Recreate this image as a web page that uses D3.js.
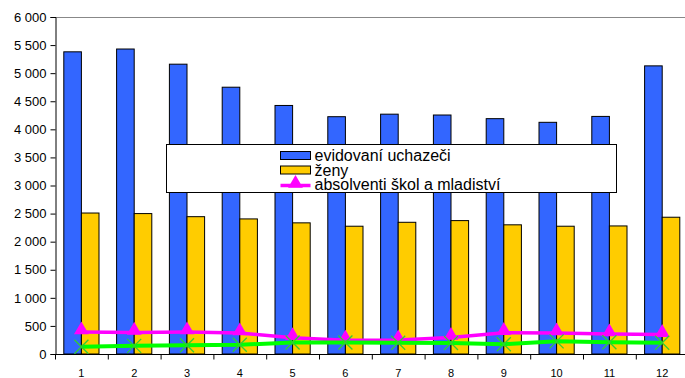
<!DOCTYPE html>
<html>
<head>
<meta charset="utf-8">
<script src="https://cdnjs.cloudflare.com/ajax/libs/d3/7.8.5/d3.min.js"></script>
<style>
  body { margin: 0; background: #fff; }
  svg { font-family: "Liberation Sans", Arial, sans-serif; display: block; }
</style>
</head>
<body>
<div id="viz"></div>
<script>
// DATA
var months = ["1", "2", "3", "4", "5", "6", "7", "8", "9", "10", "11", "12"];
var uchazeci = [5380, 5430, 5160, 4750, 4425, 4225, 4270, 4255, 4190, 4125, 4230, 5130];
var zeny = [2510, 2500, 2445, 2405, 2335, 2275, 2345, 2375, 2300, 2275, 2280, 2435];
var absolventi = [390, 385, 390, 375, 290, 245, 250, 295, 380, 375, 355, 345];
var zelena = [130, 145, 155, 165, 205, 205, 200, 195, 175, 225, 210, 200];
var yTicks = [0, 500, 1000, 1500, 2000, 2500, 3000, 3500, 4000, 4500, 5000, 5500, 6000];

(function() {
var w = 685, h = 378;
var mLeft = 55, mTop = 17, mBottom = 354;
var catW = 52.8;

var svg = d3.select("#viz").append("svg")
  .attr("width", w)
  .attr("height", h);

// SCALES
var x = d3.scaleBand()
  .domain(months)
  .range([mLeft, mLeft + catW * months.length])
  .paddingInner(0).paddingOuter(0);

var xs = d3.scaleBand()
  .domain(["u", "z"])
  .range([x.bandwidth() / 6, x.bandwidth() * 5 / 6]);

var y = d3.scaleLinear()
  .domain([0, 6000])
  .range([mBottom, mTop]);

var fmt = function(d) { return d3.format(",")(d).replace(/,/g, " "); };

// top border of plot
svg.append("line")
  .attr("x1", mLeft).attr("x2", w)
  .attr("y1", y(6000) + 0.5).attr("y2", y(6000) + 0.5)
  .attr("stroke", "#888").attr("stroke-width", 1);

// BARS
var g = svg.append("g");
g.selectAll("rect.u")
  .data(uchazeci)
  .enter().append("rect")
  .attr("class", "u")
  .attr("x", function(d, i) { return x(months[i]) + xs("u"); })
  .attr("y", function(d) { return y(d); })
  .attr("width", xs.bandwidth())
  .attr("height", function(d) { return y(0) - y(d); })
  .attr("fill", "#3366ff")
  .attr("stroke", "#000").attr("stroke-width", 1);

g.selectAll("rect.z")
  .data(zeny)
  .enter().append("rect")
  .attr("class", "z")
  .attr("x", function(d, i) { return x(months[i]) + xs("z"); })
  .attr("y", function(d) { return y(d); })
  .attr("width", xs.bandwidth())
  .attr("height", function(d) { return y(0) - y(d); })
  .attr("fill", "#ffcc00")
  .attr("stroke", "#000").attr("stroke-width", 1);

// LINES
var cx = function(d, i) { return x(months[i]) + x.bandwidth() / 2; };
var line = d3.line().x(cx).y(function(d) { return y(d); });

svg.append("path")
  .datum(absolventi)
  .attr("d", line)
  .attr("fill", "none")
  .attr("stroke", "#ff00ff").attr("stroke-width", 3.5);

var tri = d3.symbol().type(d3.symbolTriangle).size(95);
svg.selectAll("path.tri")
  .data(absolventi)
  .enter().append("path")
  .attr("class", "tri")
  .attr("d", tri)
  .attr("transform", function(d, i) { return "translate(" + cx(d, i) + "," + (y(d) - 2) + ")"; })
  .attr("fill", "#ff00ff");

svg.append("path")
  .datum(zelena)
  .attr("d", line)
  .attr("fill", "none")
  .attr("stroke", "#00ff00").attr("stroke-width", 4);

svg.selectAll("g.xm")
  .data(zelena)
  .enter().append("g")
  .attr("class", "xm")
  .attr("transform", function(d, i) { return "translate(" + cx(d, i) + "," + y(d) + ")"; })
  .each(function() {
    var m = d3.select(this);
    m.append("line").attr("x1", -7).attr("y1", -7).attr("x2", 7).attr("y2", 7);
    m.append("line").attr("x1", -7).attr("y1", 7).attr("x2", 7).attr("y2", -7);
  })
  .selectAll("line")
  .attr("stroke", "#33cc33").attr("stroke-width", 1.3);

// AXES
var yAxis = svg.append("g")
  .attr("transform", "translate(" + (mLeft + 0.5) + ",0)")
  .call(d3.axisLeft(y).tickValues(yTicks).tickFormat(fmt).tickSize(5).tickPadding(4));
yAxis.select(".domain").attr("stroke", "#000");
yAxis.selectAll("text").attr("font-size", 13).attr("fill", "#000")
  .attr("font-family", "'Liberation Sans', Arial, sans-serif");

var xAxis = svg.append("g")
  .attr("transform", "translate(0," + (mBottom + 0.5) + ")");
xAxis.append("line")
  .attr("x1", mLeft).attr("x2", w)
  .attr("stroke", "#000");
xAxis.selectAll("line.tk")
  .data(months.concat(["end"]))
  .enter().append("line")
  .attr("class", "tk")
  .attr("x1", function(d, i) { return mLeft + i * x.bandwidth() + 0.5; })
  .attr("x2", function(d, i) { return mLeft + i * x.bandwidth() + 0.5; })
  .attr("y1", 0).attr("y2", 5)
  .attr("stroke", "#000");
xAxis.selectAll("text")
  .data(months)
  .enter().append("text")
  .attr("x", function(d) { return x(d) + x.bandwidth() / 2; })
  .attr("y", 22)
  .attr("text-anchor", "middle")
  .attr("font-size", 11)
  .text(function(d) { return d; });

// LEGEND
var leg = svg.append("g").attr("transform", "translate(166.5,144.5)");
leg.append("rect")
  .attr("width", 450).attr("height", 48)
  .attr("fill", "#fff").attr("stroke", "#000");

var items = [
  { name: "evidovaní uchazeči", type: "bar", color: "#3366ff" },
  { name: "ženy", type: "bar", color: "#ffcc00" },
  { name: "absolventi škol a mladiství", type: "line", color: "#ff00ff" }
];
var row = leg.selectAll("g.item")
  .data(items)
  .enter().append("g")
  .attr("class", "item")
  .attr("transform", function(d, i) { return "translate(114," + (11 + i * 14.5) + ")"; });

row.filter(function(d) { return d.type === "bar"; })
  .append("rect")
  .attr("x", 0).attr("y", -4).attr("width", 30).attr("height", 8)
  .attr("fill", function(d) { return d.color; })
  .attr("stroke", "#000");

var lr = row.filter(function(d) { return d.type === "line"; });
lr.append("line")
  .attr("x1", 0).attr("x2", 30).attr("y1", 1).attr("y2", 1)
  .attr("stroke", function(d) { return d.color; }).attr("stroke-width", 3.5);
lr.append("path")
  .attr("d", tri)
  .attr("transform", "translate(15,-1)")
  .attr("fill", function(d) { return d.color; });

row.append("text")
  .attr("x", 34)
  .attr("y", 5.5)
  .attr("font-size", 16)
  .text(function(d) { return d.name; });
})();
</script>
</body>
</html>
